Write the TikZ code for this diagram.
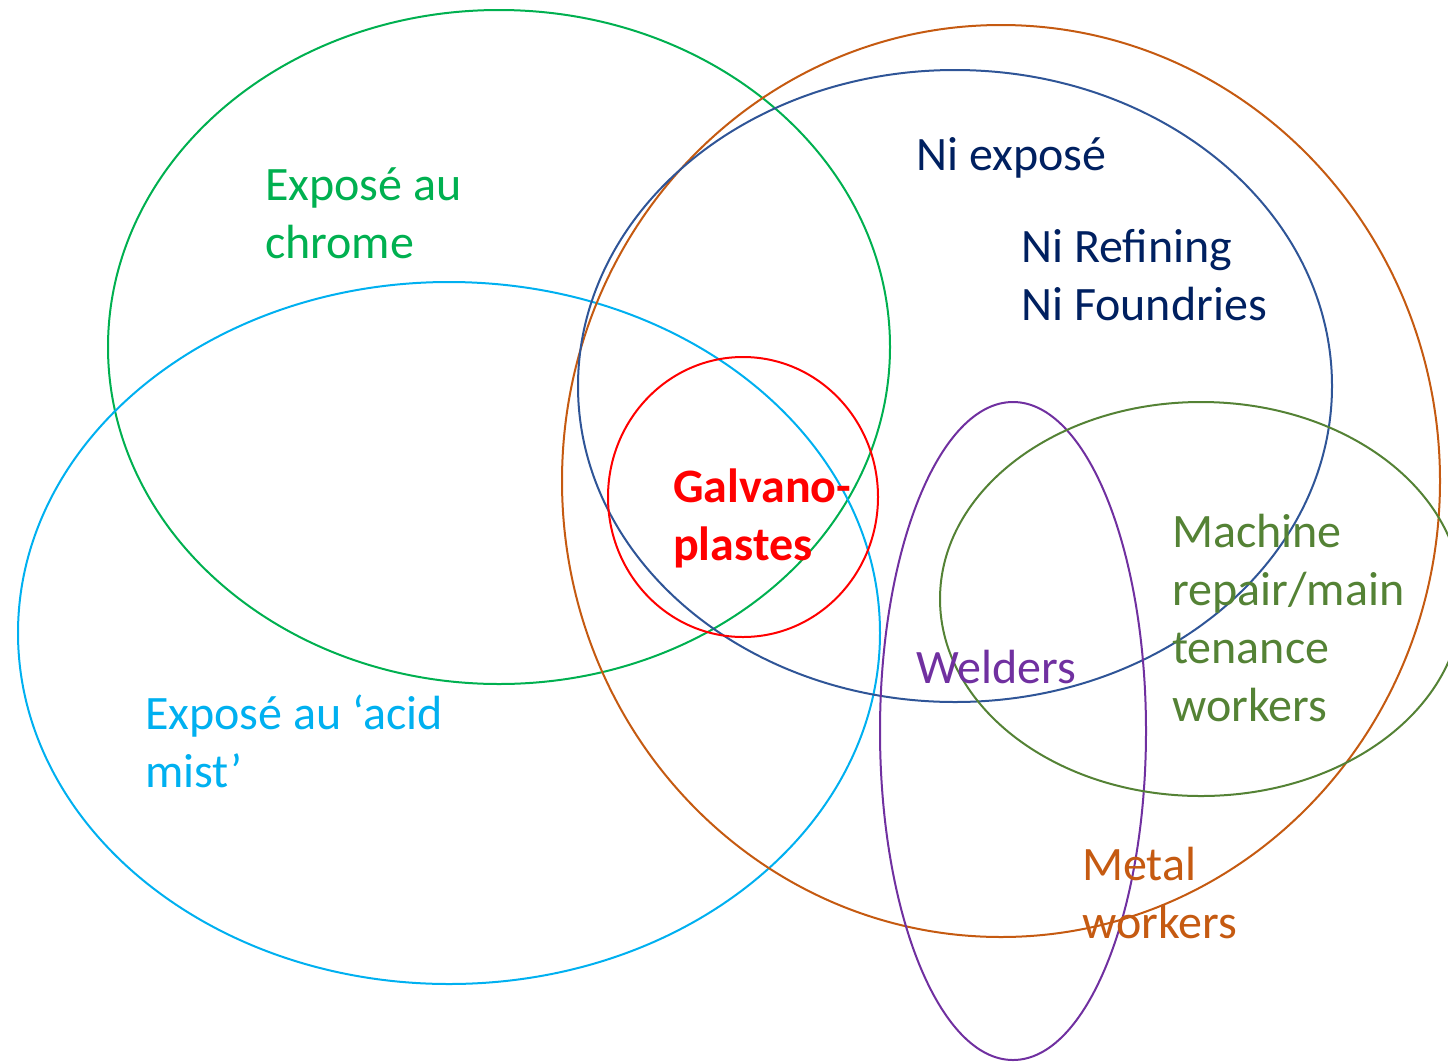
\documentclass[tikz,border=0pt]{standalone}
\usepackage{fontspec}
\setmainfont{Carlito}
\usetikzlibrary{calc}

\definecolor{chromegreen}{HTML}{00B050}
\definecolor{acidblue}{HTML}{00B0F0}
\definecolor{metalorange}{HTML}{C55A11}
\definecolor{niblue}{HTML}{2F5597}
\definecolor{nitext}{HTML}{002060}
\definecolor{weldpurple}{HTML}{7030A0}
\definecolor{machgreen}{HTML}{548235}

\tikzset{
	lbl/.style={anchor=base west, inner sep=0pt, align=left, font=\fontsize{48}{58}\selectfont},
	ring/.style={line width=2pt}
}

\begin{document}
\begin{tikzpicture}[x=1pt, y=-1pt]
				\useasboundingbox (0,0) rectangle (1448,1061);
				\clip (0,0) rectangle (1448,1061);
				
				\draw[ring, chromegreen] (499,347) ellipse [x radius=391, y radius=337];
				\draw[ring, acidblue] (449,633) ellipse [x radius=431, y radius=351];
				\draw[ring, metalorange] (1001,481) ellipse [x radius=439, y radius=456];
				\draw[ring, niblue] (955,386) ellipse [x radius=377, y radius=316];
				\draw[ring, red] (743,497) ellipse [x radius=135, y radius=140];
				\draw[ring, weldpurple] (1013,731) ellipse [x radius=133, y radius=329];
				\draw[ring, machgreen] (1201,599) ellipse [x radius=261, y radius=197];
				
				\node[lbl, chromegreen] (chrome) at (265,258) {Exposé au\\chrome};
				\node[lbl, acidblue] (acid) at (145,787) {Exposé au ‘acid\\mist’};
				\node[lbl, nitext] (niexp) at (916,170) {Ni exposé};
				\node[lbl, nitext] (nirefine) at (1021,320) {Ni Refining\\Ni Foundries};
				\node[lbl, red, font=\fontsize{48}{58}\selectfont\bfseries] (galva) at (673,560) {Galvano-\\plastes};
				\node[lbl, machgreen] (machine) at (1172,721) {Machine\\repair/main\\tenance\\workers};
				\node[lbl, weldpurple] (welders) at (916,683) {Welders};
				\node[lbl, metalorange] (metal) at (1082,938) {Metal\\workers};
			\end{tikzpicture}
\end{document}
